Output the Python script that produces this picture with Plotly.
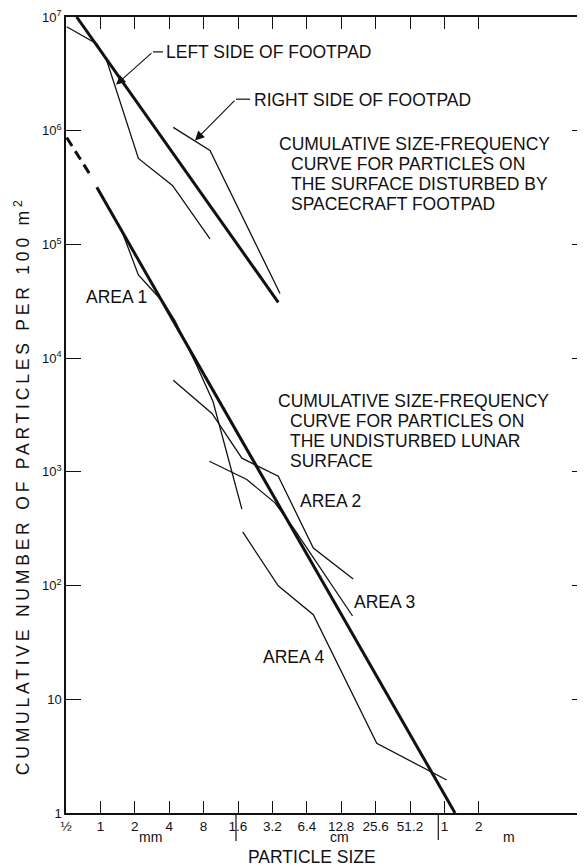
import math
import plotly.graph_objects as go

# ---------------- data: particle size (mm) vs cumulative number per 100 m^2 ----------------
disturbed_fit_size = [0.62, 36.0]
disturbed_fit_count = [1.0e7, 3.1e4]

left_footpad_size = [0.507, 0.934, 1.14, 2.15, 4.27, 9.10]
left_footpad_count = [8.2e6, 5.8e6, 4.1e6, 5.7e5, 3.3e5, 1.12e5]

right_footpad_size = [4.34, 9.10, 37.3]
right_footpad_count = [1.07e6, 6.7e5, 3.7e4]

undisturbed_fit_size = [0.93, 1268]
undisturbed_fit_count = [3.18e5, 1.0]

extrapolation_size = [0.507, 0.84]
extrapolation_count = [8.7e5, 3.9e5]

area1_size = [0.953, 1.54, 2.15, 3.55, 4.50, 6.96, 9.67, 17.3]
area1_count = [3.11e5, 1.31e5, 5.4e4, 3.1e4, 2.13e4, 8.6e3, 4.15e3, 470]

area2_size = [4.34, 9.48, 17.3, 36.0, 73.0, 163]
area2_count = [6.4e3, 3.26e3, 1.32e3, 915, 214, 114]

area3_size = [8.98, 19.1, 33.7, 48.8, 161]
area3_count = [1.24e3, 856, 534, 322, 54]

area4_size = [17.6, 36.0, 73.0, 262, 1073]
area4_count = [296, 99.5, 55.4, 4.1, 1.95]

size_ticks = [0.5, 1, 2, 4, 8, 16, 32, 64, 128, 256, 512, 1024, 2048]
size_tick_labels = ["½", "1", "2", "4", "8", "1.6", "3.2", "6.4", "12.8", "25.6", "51.2", "1", "2"]
count_ticks = [1, 10, 100, 1e3, 1e4, 1e5, 1e6, 1e7]
count_tick_labels = ["1", "10", "10<sup>2</sup>", "10<sup>3</sup>", "10<sup>4</sup>",
                     "10<sup>5</sup>", "10<sup>6</sup>", "10<sup>7</sup>"]

# ---------------- layout geometry ----------------
# the page body adds an 8px margin, so the figure is drawn 8px smaller and all
# positions below are given in page pixels and shifted by that offset
OFF = 8
PAGE_W, PAGE_H = 585, 867
W, H = PAGE_W - OFF, PAGE_H - OFF
PLOT_LEFT, PLOT_TOP, PLOT_BOTTOM = 66, 14, 813
ML, MR, MT, MB = PLOT_LEFT - OFF, 0, PLOT_TOP - OFF, PAGE_H - PLOT_BOTTOM
PW, PH = W - ML - MR, H - MT - MB
PX_PER_DOUBLING = 34.4

INK = "#111111"
FONT = "Liberation Sans"


def px(x):
    return (x - PLOT_LEFT) / PW


def py(y):
    return (PLOT_BOTTOM - y) / PH


x_lo = math.log10(0.5)
x_hi = x_lo + PW / PX_PER_DOUBLING * math.log10(2)

fig = go.Figure()


def add_line(xs, ys, width, dash=None):
    fig.add_trace(go.Scatter(x=xs, y=ys, mode="lines",
                             line=dict(color=INK, width=width, dash=dash),
                             showlegend=False, hoverinfo="skip"))


add_line(disturbed_fit_size, disturbed_fit_count, 3)
add_line(left_footpad_size, left_footpad_count, 1.3)
add_line(right_footpad_size, right_footpad_count, 1.3)
add_line(undisturbed_fit_size, undisturbed_fit_count, 3)
add_line(extrapolation_size, extrapolation_count, 3, dash="10px,6px")
add_line(area1_size, area1_count, 1.3)
add_line(area2_size, area2_count, 1.3)
add_line(area3_size, area3_count, 1.3)
add_line(area4_size, area4_count, 1.3)
# empty traces that carry the top and right tick axes
fig.add_trace(go.Scatter(x=[], y=[], xaxis="x", yaxis="y2", showlegend=False, hoverinfo="skip"))
fig.add_trace(go.Scatter(x=[], y=[], xaxis="x2", yaxis="y", showlegend=False, hoverinfo="skip"))

annotations = []


def label(text, x, y, size=17.5, xanchor="left", angle=0):
    annotations.append(dict(text=text, x=px(x), y=py(y), xref="paper", yref="paper",
                            xanchor=xanchor, yanchor="middle", showarrow=False,
                            textangle=angle,
                            font=dict(family=FONT, size=size, color=INK)))


label("LEFT SIDE OF FOOTPAD", 164, 49)
label("RIGHT SIDE OF FOOTPAD", 252, 97.5)
label("CUMULATIVE SIZE-FREQUENCY", 277, 141.7)
label("CURVE FOR PARTICLES ON", 289, 161.7)
label("THE SURFACE DISTURBED BY", 289, 181.7)
label("SPACECRAFT FOOTPAD", 289, 201.7)
label("CUMULATIVE SIZE-FREQUENCY", 276, 399.3)
label("CURVE FOR PARTICLES ON", 288, 419.3)
label("THE UNDISTURBED LUNAR", 288, 439.3)
label("SURFACE", 288, 459.3)
label("AREA 1", 84, 295)
label("AREA 2", 298, 500)
label("AREA 3", 352, 601)
label("AREA 4", 261, 656)
label("PARTICLE SIZE", 312, 857, xanchor="center")
label("mm", 150.5, 837, size=14, xanchor="center")
label("cm", 339, 837, size=14, xanchor="center")
label("m", 509, 837, size=14, xanchor="center")
label('<span style="letter-spacing:3.8px">CUMULATIVE NUMBER OF PARTICLES PER 100 m<sup>2</sup></span>',
      22, 485, xanchor="center", angle=-90)

# leader arrows
for tip, tail in [((116, 82), (153, 49)), ((195, 138), (236, 96.5))]:
    annotations.append(dict(text="", x=px(tip[0]), y=py(tip[1]), xref="paper", yref="paper",
                            ax=tail[0] - tip[0], ay=tail[1] - tip[1], showarrow=True,
                            arrowhead=2, arrowsize=1.7, arrowwidth=1.1, arrowcolor=INK,
                            standoff=0))

shapes = []
for (x0, y0, x1, y1) in [(153, 49, 163, 49), (236, 96.5, 250, 96.5),
                         (236, 813, 236, 841), (438.3, 813, 438.3, 840)]:
    shapes.append(dict(type="line", xref="paper", yref="paper",
                       x0=px(x0), y0=py(y0), x1=px(x1), y1=py(y1),
                       line=dict(color=INK, width=1.2)))

tick_style = dict(ticks="inside", tickwidth=1.2, tickcolor=INK, showgrid=False, zeroline=False)

fig.update_layout(
    width=W, height=H,
    margin=dict(l=ML, r=MR, t=MT, b=MB, pad=0),
    paper_bgcolor="white", plot_bgcolor="white",
    showlegend=False,
    annotations=annotations, shapes=shapes,
    xaxis=dict(type="log", range=[x_lo, x_hi], tickvals=size_ticks, ticktext=size_tick_labels,
               ticklen=12, showline=True, linecolor=INK, linewidth=1.5, mirror=False,
               tickfont=dict(family=FONT, size=13.5, color=INK), **tick_style),
    xaxis2=dict(type="log", range=[x_lo, x_hi], tickvals=size_ticks, overlaying="x",
                side="top", anchor="y", ticklen=12, showticklabels=False,
                showline=True, linecolor=INK, linewidth=1.5, **tick_style),
    yaxis=dict(type="log", range=[0, 7], tickvals=count_ticks, ticktext=count_tick_labels,
               ticklen=15, showline=True, linecolor=INK, linewidth=1.5, mirror=False,
               ticklabeloverflow="allow",
               tickfont=dict(family=FONT, size=13, color=INK), **tick_style),
    yaxis2=dict(type="log", range=[0, 7], overlaying="y", side="right", anchor="x",
                tickvals=count_ticks, ticklen=13, showticklabels=False, showline=False,
                **tick_style),
)

fig.write_html("out.html")
